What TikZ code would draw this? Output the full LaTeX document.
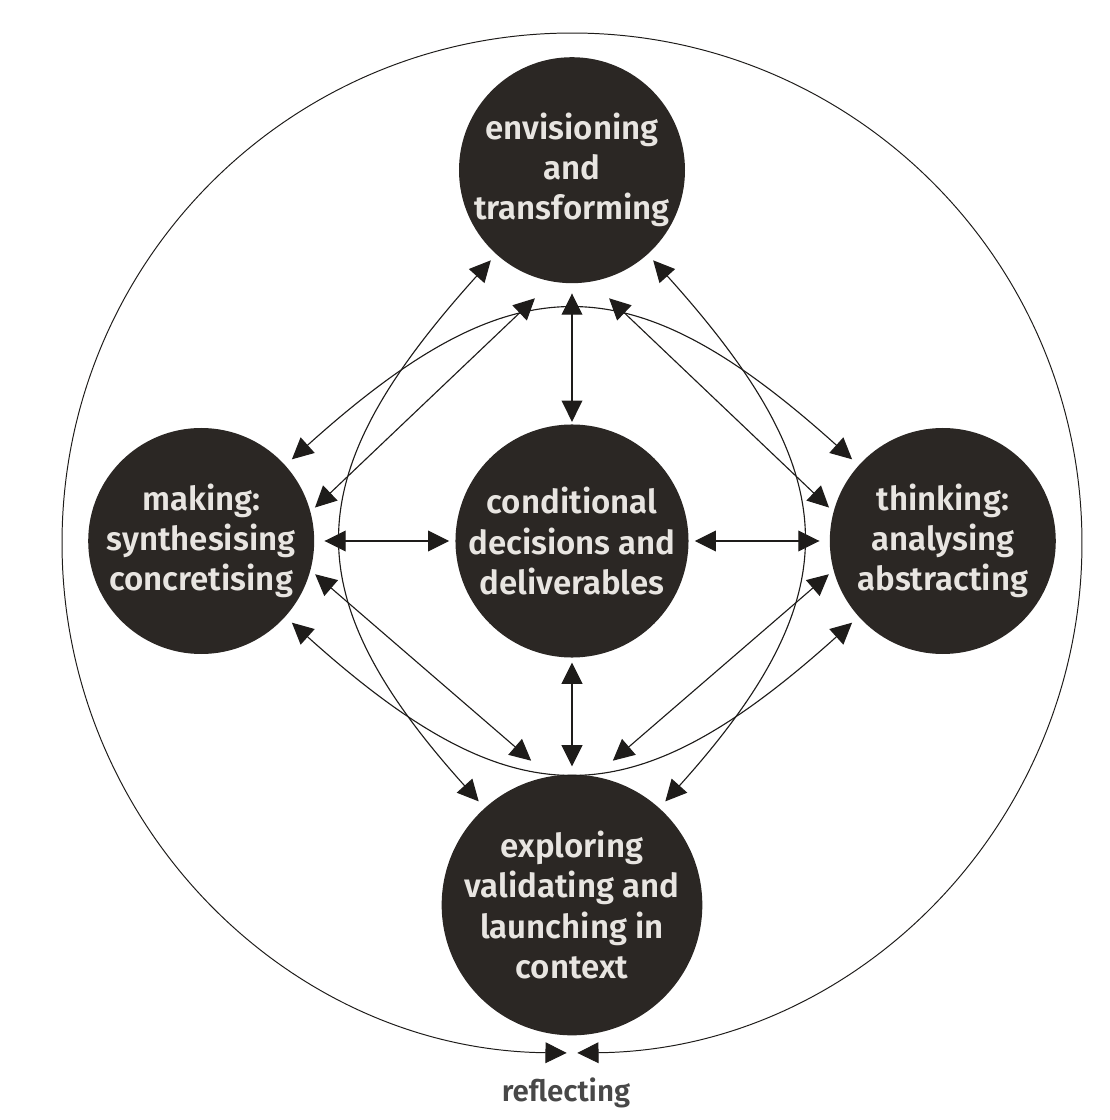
\documentclass[tikz,border=0pt]{standalone}
\usepackage{fontspec}
\setmainfont{Fira Sans}[UprightFont={* SemiBold}]
\usetikzlibrary{arrows.meta,positioning}
\definecolor{phasefill}{RGB}{43,39,36}
\definecolor{phasetext}{RGB}{232,229,225}
\definecolor{linkdark}{RGB}{30,28,26}
\definecolor{labelgray}{RGB}{72,72,72}
\tikzset{
  phase/.style={circle,fill=phasefill,text=phasetext,minimum size=5.65cm,inner sep=0pt,
                align=center,font=\fontsize{23.5}{28.5}\selectfont},
  link/.style={{Triangle[length=5.3mm,width=5.2mm]}-{Triangle[length=5.3mm,width=5.2mm]},
               line width=0.8pt,draw=linkdark},
}

\begin{document}
\begin{tikzpicture}
\useasboundingbox (-14.3,-14.475) rectangle (13.45,13.525);
% the five phases
\node[phase] (cdd) at (0,0) {conditional\\decisions and\\deliverables};
\node[phase] (env) at (0,9.27) {envisioning\\and\\transforming};
\node[phase] (exp) at (0,-9.1) {exploring\\validating and\\launching in\\context};
\node[phase] (mak) at (-9.27,0) {making:\\synthesising\\concretising};
\node[phase] (thk) at (9.27,0) {thinking:\\analysing\\abstracting};

% outer loop
\coordinate (hub) at (0,-0.05);
\draw[link,line width=0.7pt] ([shift={(-89.4:12.75)}]hub) arc[start angle=-89.4,end angle=269.4,radius=12.75];
\node[font=\fontsize{21}{24}\selectfont,text=labelgray] (refl) at (-0.15,-13.8) {reflecting};

% spokes to the centre
\draw[link,shorten <=2.5mm,shorten >=0.6mm] (env) -- (cdd);
\draw[link,shorten <=1.2mm,shorten >=2mm] (cdd) -- (exp);
\draw[link,shorten <=2.5mm,shorten >=1.5mm] (mak) -- (cdd);
\draw[link,shorten <=1.5mm,shorten >=2.5mm] (cdd) -- (thk);

% big arcs round the centre
\draw[link,shorten <=2.2mm,shorten >=2.2mm] (mak) to[out=42,in=138,looseness=1.37] (thk);
\draw[link,shorten <=2.2mm,shorten >=2.2mm] (mak) to[out=-42,in=-138,looseness=1.37] (thk);
\draw[link,shorten <=2mm,shorten >=2.2mm] (env) to[out=228,in=132,looseness=1.35] (exp);
\draw[link,shorten <=2mm,shorten >=2.2mm] (env) to[out=-48,in=48,looseness=1.35] (exp);

% diagonal links
\draw[link,shorten <=1.5mm,shorten >=6mm] (mak.15) -- (env.260);
\draw[link,shorten <=1.5mm,shorten >=6mm] (thk.165) -- (env.280);
\draw[link,shorten <=1.5mm,shorten >=6mm] (mak.-15) -- (exp.100);
\draw[link,shorten <=1.5mm,shorten >=6mm] (thk.195) -- (exp.80);
\end{tikzpicture}
\end{document}
